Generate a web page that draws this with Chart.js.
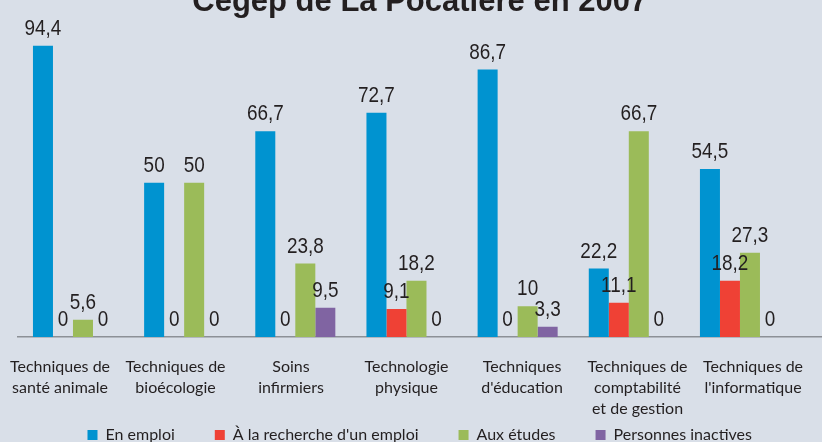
<!DOCTYPE html>
<html lang="fr">
<head>
<meta charset="utf-8">
<title>Cégep de La Pocatière en 2007</title>
<script src="https://cdn.jsdelivr.net/npm/chart.js@4.4.1/dist/chart.umd.min.js"></script>
<style>
  html, body { margin: 0; padding: 0; background: #d9dfe8; overflow: hidden; }
  #graphique { display: block; }
</style>
</head>
<body>
<canvas id="graphique" width="822" height="453"></canvas>
<script>
const programmes = [
  ["Techniques de", "santé animale"],
  ["Techniques de", "bioécologie"],
  ["Soins", "infirmiers"],
  ["Technologie", "physique"],
  ["Techniques", "d'éducation"],
  ["Techniques de", "comptabilité", "et de gestion"],
  ["Techniques de", "l'informatique"],
];
const series = ["En emploi", "À la recherche d'un emploi", "Aux études", "Personnes inactives"];
const enEmploi = [94.4, 50, 66.7, 72.7, 86.7, 22.2, 54.5];
const enRecherche = [0, 0, 0, 9.1, 0, 11.1, 18.2];
const auxEtudes = [5.6, 50, 23.8, 18.2, 10, 66.7, 27.3];
const inactifs = [0, 0, 9.5, 0, 3.3, 0, 0];
const couleurs = ["#0093d0", "#ef4135", "#9bbb59", "#8064a2"];

// valeurs au-dessus des barres (virgule décimale, police étroite)
const etiquettesValeurs = {
  id: "etiquettesValeurs",
  afterLayout(chart) {
    // les libellés sur 3 lignes débordent l'axe : on élargit sa zone de découpe
    chart.scales.x.bottom = chart.height;
  },
  afterDatasetsDraw(chart) {
    const ctx = chart.ctx;
    ctx.save();
    ctx.font = "21.5px 'Liberation Sans'";
    ctx.fillStyle = "#231f20";
    ctx.textAlign = "center";
    ctx.textBaseline = "alphabetic";
    chart.data.datasets.forEach((ds, i) => {
      chart.getDatasetMeta(i).data.forEach((barre, j) => {
        ctx.save();
        ctx.translate(barre.x, barre.y - 11);
        ctx.scale(0.88, 1);
        ctx.fillText(String(ds.data[j].y).replace(".", ","), 0, 0);
        ctx.restore();
      });
    });
    ctx.restore();
  },
};

const valeurs = [enEmploi, enRecherche, auxEtudes, inactifs];
const data = {
  datasets: series.map((nom, i) => ({
    label: nom,
    data: valeurs[i].map((v, j) => ({ x: j, y: v })),
    xAxisID: "xb",
    backgroundColor: couleurs[i],
    borderWidth: 0,
    categoryPercentage: 0.72,
    barPercentage: 1,
  })),
};

const config = {
  type: "bar",
  data: data,
  options: {
    responsive: false,
    animation: false,
    layout: { padding: { left: 17.4, right: 0, top: 0, bottom: 0 } },
    scales: {
      // axe des barres (caché)
      xb: {
        type: "linear",
        position: "bottom",
        display: false,
        offset: false,
        min: -0.5,
        max: 6.738,
        ticks: { stepSize: 1, includeBounds: false },
      },
      // axe des libellés de programmes
      x: {
        type: "linear",
        position: "bottom",
        offset: false,
        min: -0.369,
        max: 6.597,
        grid: { display: false, drawTicks: false, offset: false },
        border: { color: "#8c9096", width: 1.5 },
        ticks: {
          stepSize: 1,
          includeBounds: false,
          callback: (v) => programmes[v],
          color: "#231f20",
          font: { family: "Lato", size: 16, lineHeight: 1.31 },
          padding: 19,
          maxRotation: 0,
          autoSkip: false,
        },
        afterFit(scale) {
          scale.height = 50;
          // pas de marge automatique pour les libellés qui dépassent
          scale.paddingLeft = 0;
          scale.paddingRight = 0;
        },
      },
      y: { display: false, min: 0, max: 100 },
    },
    plugins: {
      title: {
        display: true,
        text: "Cégep de La Pocatière en 2007",
        color: "#231f20",
        font: { family: "Liberation Sans", size: 31, weight: "bold", lineHeight: 1.2 },
        padding: { top: -16.4, bottom: 7.8 },
      },
      legend: {
        position: "bottom",
        labels: {
          boxWidth: 10,
          boxHeight: 10,
          padding: 40,
          color: "#231f20",
          font: { family: "Lato", size: 16 },
        },
      },
      tooltip: { enabled: false },
    },
  },
  plugins: [etiquettesValeurs],
};

new Chart(document.querySelector("#graphique"), config);
</script>
</body>
</html>
